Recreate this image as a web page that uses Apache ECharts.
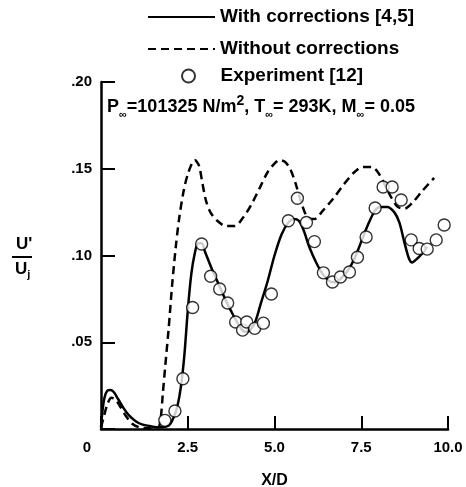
<!DOCTYPE html>
<html>
<head>
<meta charset="utf-8">
<script src="https://cdn.jsdelivr.net/npm/echarts@6/dist/echarts.min.js"></script>
<style>
html,body{margin:0;padding:0;background:#fff;}
#chart{width:466px;height:487px;}
</style>
</head>
<body>
<div id="chart"></div>
<script>
// ---- data ----
const seriesNames = ['With corrections [4,5]', 'Without corrections', 'Experiment [12]'];

const withX = [0, 0.04, 0.1, 0.18, 0.28, 0.38, 0.5, 0.65, 0.8, 1.0, 1.2, 1.45, 1.7, 1.9, 2.0, 2.1, 2.2, 2.3, 2.4, 2.5, 2.6, 2.7, 2.8, 2.9, 3.0, 3.2, 3.4, 3.6, 3.8, 4.0, 4.15, 4.3, 4.45, 4.6, 4.8, 5.0, 5.2, 5.4, 5.55, 5.7, 5.85, 6.0, 6.2, 6.4, 6.6, 6.75, 6.9, 7.1, 7.3, 7.5, 7.7, 7.9, 8.05, 8.25, 8.45, 8.6, 8.75, 8.88, 8.97, 9.1, 9.25, 9.4];
const withY = [0.001, 0.010, 0.018, 0.022, 0.0225, 0.021, 0.017, 0.012, 0.008, 0.0045, 0.0025, 0.0015, 0.001, 0.0015, 0.003, 0.007, 0.013, 0.024, 0.042, 0.068, 0.089, 0.101, 0.107, 0.107, 0.102, 0.092, 0.083, 0.074, 0.066, 0.059, 0.056, 0.057, 0.062, 0.072, 0.085, 0.100, 0.112, 0.119, 0.121, 0.120, 0.114, 0.105, 0.096, 0.089, 0.085, 0.0845, 0.0865, 0.091, 0.098, 0.108, 0.118, 0.126, 0.128, 0.128, 0.125, 0.119, 0.107, 0.098, 0.096, 0.098, 0.101, 0.105];

const withoutX = [0, 0.08, 0.18, 0.3, 0.42, 0.55, 0.7, 0.9, 1.1, 1.4, 1.65, 1.72, 1.78, 1.85, 1.95, 2.05, 2.15, 2.25, 2.38, 2.52, 2.7, 2.82, 2.92, 3.02, 3.15, 3.35, 3.6, 3.85, 4.1, 4.35, 4.6, 4.8, 5.0, 5.15, 5.3, 5.45, 5.6, 5.78, 5.95, 6.15, 6.4, 6.7, 7.0, 7.3, 7.55, 7.8, 7.98, 8.15, 8.35, 8.55, 8.75, 9.0, 9.25, 9.6];
const withoutY = [0.001, 0.007, 0.014, 0.018, 0.017, 0.013, 0.008, 0.003, 0.001, 0.0005, 0.001, 0.006, 0.020, 0.036, 0.058, 0.083, 0.104, 0.121, 0.137, 0.148, 0.155, 0.152, 0.142, 0.132, 0.125, 0.120, 0.117, 0.117, 0.122, 0.130, 0.140, 0.148, 0.153, 0.155, 0.154, 0.150, 0.142, 0.130, 0.122, 0.121, 0.126, 0.133, 0.141, 0.148, 0.151, 0.151, 0.148, 0.142, 0.134, 0.128, 0.127, 0.131, 0.137, 0.1447];

const expX = [1.84, 2.13, 2.36, 2.64, 2.90, 3.16, 3.42, 3.65, 3.88, 4.08, 4.20, 4.43, 4.68, 4.91, 5.40, 5.66, 5.92, 6.15, 6.41, 6.67, 6.90, 7.16, 7.39, 7.64, 7.90, 8.13, 8.39, 8.65, 8.94, 9.17, 9.40, 9.66, 9.89];
const expY = [0.005, 0.0104, 0.029, 0.070, 0.1066, 0.088, 0.0807, 0.0726, 0.0617, 0.057, 0.0617, 0.058, 0.061, 0.0778, 0.120, 0.133, 0.119, 0.108, 0.090, 0.0847, 0.0876, 0.0905, 0.099, 0.1107, 0.1274, 0.1395, 0.1395, 0.132, 0.109, 0.104, 0.1037, 0.109, 0.1176];

const xTickLabels = ['0', '2.5', '5.0', '7.5', '10.0'];
const yTickLabels = ['', '.05', '.10', '.15', '.20'];

// ---- build ----
const zip = (xs, ys) => xs.map((x, i) => [x, ys[i]]);
const FONT = '"Liberation Sans", Arial, Helvetica, sans-serif';

const chart = echarts.init(document.getElementById('chart'), null, {renderer: 'canvas'});

const legendText = {fontFamily: FONT, fontWeight: 'bold', fontSize: 19, color: '#000', lineHeight: 20};

const option = {
  backgroundColor: '#ffffff',
  animation: false,
  grid: {left: 101, right: 18, top: 82, bottom: 58, containLabel: false, outerBoundsMode: 'none'},
  xAxis: {
    type: 'value', min: 0, max: 10, interval: 2.5,
    name: 'X/D', nameLocation: 'middle', nameGap: 44,
    nameTextStyle: {fontFamily: FONT, fontWeight: 'bold', fontSize: 16, color: '#000'},
    axisLine: {show: true, onZero: false, lineStyle: {color: '#000', width: 2.5}},
    axisTick: {show: true, inside: true, length: 13, lineStyle: {color: '#000', width: 2}},
    splitLine: {show: false},
    axisLabel: {
      margin: 11, color: '#000', fontFamily: FONT, fontWeight: 'bold', fontSize: 15,
      formatter: function (v) {
        const s = xTickLabels[Math.round(v / 2.5)];
        return v === 0 ? '{o|' + s + '}' : s;
      },
      rich: {o: {fontFamily: FONT, fontWeight: 'bold', fontSize: 15, color: '#000', padding: [0, 28, 0, 0]}}
    }
  },
  yAxis: {
    type: 'value', min: 0, max: 0.2, interval: 0.05,
    axisLine: {show: true, onZero: false, lineStyle: {color: '#000', width: 2.5}},
    axisTick: {show: true, inside: true, length: 14, lineStyle: {color: '#000', width: 2}},
    splitLine: {show: false},
    axisLabel: {
      margin: 9, color: '#000', fontFamily: FONT, fontWeight: 'bold', fontSize: 15,
      formatter: function (v) { return yTickLabels[Math.round(v / 0.05)]; }
    }
  },
  legend: [
    {
      data: [seriesNames[0], seriesNames[1]],
      orient: 'vertical', left: 142, top: 2,
      itemWidth: 67, itemHeight: 14, itemGap: 12,
      itemStyle: {color: 'rgba(0,0,0,0)', borderWidth: 0, opacity: 0},
      textStyle: legendText,
      selectedMode: false
    },
    {
      data: [seriesNames[2]],
      orient: 'vertical', left: 176, top: 61,
      itemWidth: 54, itemHeight: 13,
      textStyle: legendText,
      selectedMode: false
    }
  ],
  graphic: [
    {
      type: 'text', left: 107, top: 94, z: 100,
      style: {
        text: '{a|P}{s|∞}{a|=101325 N/m}{p|2}{a|, T}{s|∞}{a|= 293K, M}{s|∞}{a|= 0.05}',
        rich: {
          a: {fontFamily: FONT, fontWeight: 'bold', fontSize: 18, color: '#000', lineHeight: 26},
          s: {fontFamily: FONT, fontWeight: 'bold', fontSize: 11, color: '#000', verticalAlign: 'bottom', lineHeight: 26},
          p: {fontFamily: FONT, fontWeight: 'bold', fontSize: 14, color: '#000', verticalAlign: 'top', lineHeight: 26}
        }
      }
    },
    {
      type: 'text', left: 16, top: 236, z: 100,
      style: {text: "U'", fontFamily: FONT, fontWeight: 'bold', fontSize: 17, fill: '#000'}
    },
    {
      type: 'rect', left: 12, top: 256, z: 100,
      shape: {width: 20, height: 2}, style: {fill: '#000'}
    },
    {
      type: 'text', left: 15, top: 261, z: 100,
      style: {
        text: '{a|U}{s|j}',
        rich: {
          a: {fontFamily: FONT, fontWeight: 'bold', fontSize: 17, color: '#000', lineHeight: 22},
          s: {fontFamily: FONT, fontWeight: 'bold', fontSize: 11, color: '#000', verticalAlign: 'bottom', lineHeight: 22}
        }
      }
    }
  ],
  series: [
    {
      name: seriesNames[0], type: 'line', data: zip(withX, withY),
      symbol: 'none', smooth: 0.3, z: 3,
      lineStyle: {color: '#000', width: 2.5, type: 'solid'},
      itemStyle: {color: '#000'}
    },
    {
      name: seriesNames[1], type: 'line', data: zip(withoutX, withoutY),
      symbol: 'none', smooth: 0.3, z: 2,
      lineStyle: {color: '#000', width: 2.5, type: [8, 5]},
      itemStyle: {color: '#000'}
    },
    {
      name: seriesNames[2], type: 'scatter', data: zip(expX, expY),
      symbol: 'circle', symbolSize: 12, z: 5,
      itemStyle: {color: '#fff', borderColor: '#000', borderWidth: 1.4}
    }
  ]
};
chart.setOption(option);
</script>
</body>
</html>
